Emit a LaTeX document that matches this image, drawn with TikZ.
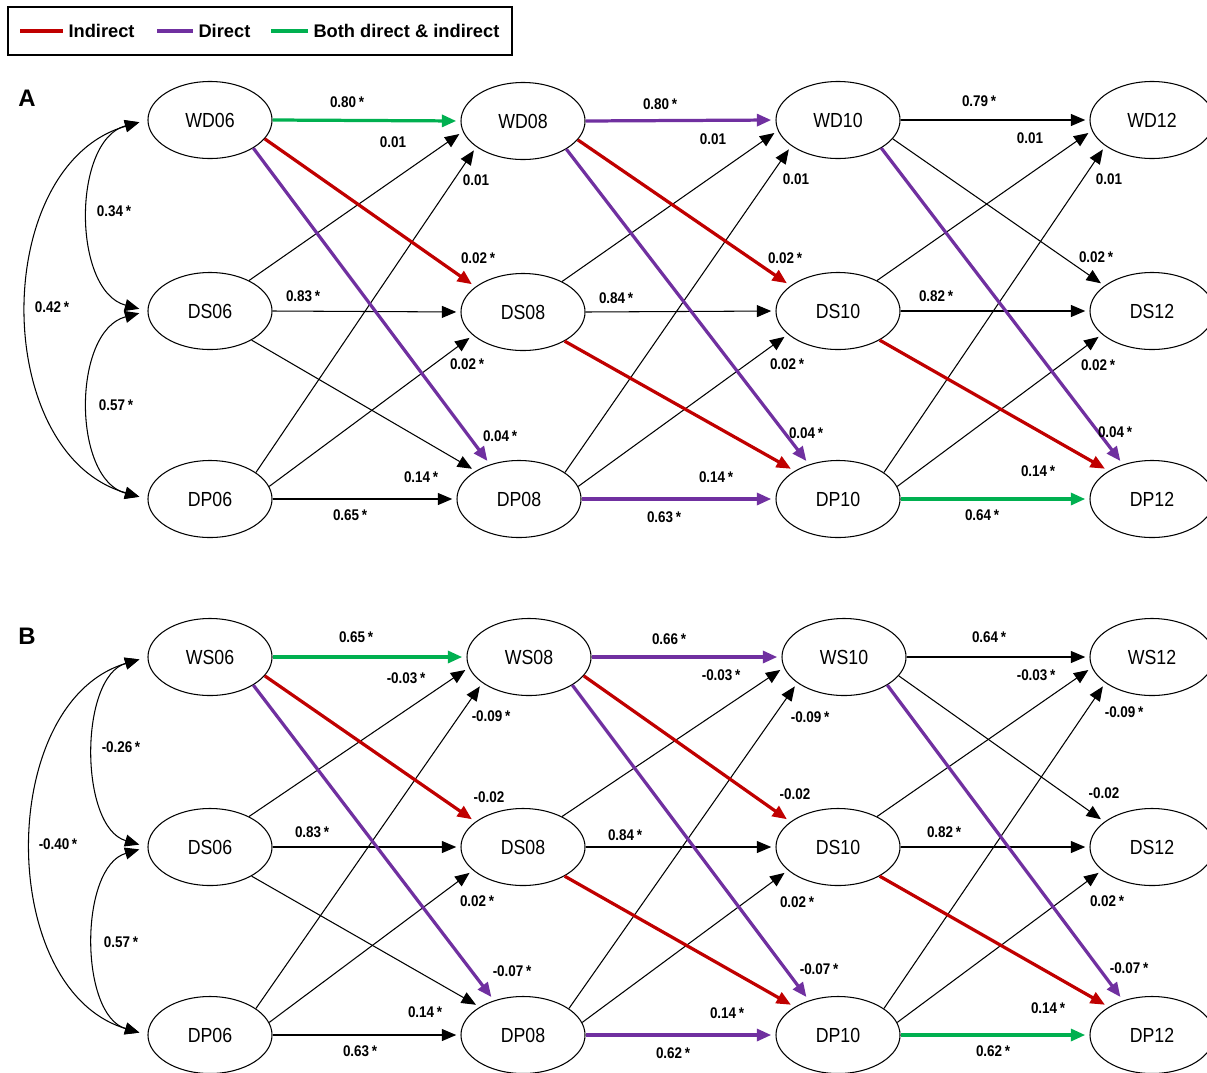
\documentclass[tikz,border=0pt]{standalone}
\usepackage{fontspec}
\setmainfont{Liberation Sans}
\newfontfamily\narrowfont{Liberation Sans}[FakeStretch=0.87]
\usetikzlibrary{arrows.meta, shapes.geometric}
\definecolor{cred}{HTML}{C00000}
\definecolor{cpurple}{HTML}{7030A0}
\definecolor{cgreen}{HTML}{00B050}
\tikzset{
  every picture/.style={line width=0.75pt},
  var/.style={draw, ellipse, minimum width=3.1cm, minimum height=1.925cm, inner sep=0pt,
    font=\narrowfont\fontsize{14.5}{16}\selectfont},
  link/.style={-{Triangle[length=3.6mm, width=3mm]}, draw=#1, shorten >=3pt},
  link/.default=black,
  strong/.style={link=#1, line width=2.3pt},
  cov/.style={{Triangle[length=3.6mm, width=3mm]}-{Triangle[length=3.6mm, width=3mm]},
    shorten <=6pt, shorten >=6pt},
  coef/.style={font=\narrowfont\bfseries\fontsize{11}{12}\selectfont, inner sep=1pt},
  panel/.style={font=\bfseries\fontsize{17}{19}\selectfont},
  key/.style={font=\bfseries\fontsize{13}{15}\selectfont, anchor=west, inner sep=0pt},
}

\begin{document}
\begin{tikzpicture}[x=0.025cm, y=-0.025cm]
  \useasboundingbox (0,0) rectangle (1207,1072);

  % legend
  \draw (8,7) rectangle (512,55);
  \draw[cred, line width=2.3pt] (20,31) -- (63,31);
  \node[key] (kind) at (68,31) {Indirect};
  \draw[cpurple, line width=2.3pt] (157,31) -- (193,31);
  \node[key] (kdir) at (198,31) {Direct};
  \draw[cgreen, line width=2.3pt] (271,31) -- (308,31);
  \node[key] (kboth) at (313,31) {Both direct \& indirect};

  % ---------------- panel A ----------------
  \node[panel] (tagA) at (27,98) {A};
  \node[var] (aw06) at (210,120) {WD06};
  \node[var] (as06) at (210,311) {DS06};
  \node[var] (ap06) at (210,499) {DP06};
  \node[var] (aw08) at (523,121) {WD08};
  \node[var] (as08) at (523,312) {DS08};
  \node[var] (ap08) at (519,499) {DP08};
  \node[var] (aw10) at (838,120) {WD10};
  \node[var] (as10) at (838,311) {DS10};
  \node[var] (ap10) at (838,499) {DP10};
  \node[var] (aw12) at (1152,120) {WD12};
  \node[var] (as12) at (1152,311) {DS12};
  \node[var] (ap12) at (1152,499) {DP12};

  \draw[cov] (aw06.west) .. controls (72,140) and (72,291) .. (as06.west);
  \draw[cov] (as06.west) .. controls (72,331) and (72,479) .. (ap06.west);
  \draw[cov] (aw06.west) .. controls (-10,165) and (-10,454) .. (ap06.west);

  % 06 -> 08
  \draw[link] (as06.38) -- (aw08.190);
  \draw[link] (ap06.30) -- (aw08.209);
  \draw[link] (as06.east) -- (as08.west);
  \draw[link] (ap06.12) -- (as08.205);
  \draw[link] (as06.325) -- (ap08.147);
  \draw[link] (ap06.east) -- (ap08.west);
  \draw[strong=cgreen] (aw06.east) -- (aw08.west);
  \draw[strong=cred] (aw06.341) -- (as08.152);
  \draw[strong=cpurple] (aw06.327) -- (ap08.130);
  % 08 -> 10
  \draw[link] (as08.38) -- (aw10.190);
  \draw[link] (ap08.30) -- (aw10.209);
  \draw[link] (as08.east) -- (as10.west);
  \draw[link] (ap08.12) -- (as10.205);
  \draw[strong=cpurple] (aw08.east) -- (aw10.west);
  \draw[strong=cred] (aw08.341) -- (as10.152);
  \draw[strong=cpurple] (aw08.327) -- (ap10.130);
  \draw[strong=cred] (as08.325) -- (ap10.147);
  \draw[strong=cpurple] (ap08.east) -- (ap10.west);
  % 10 -> 12
  \draw[link] (aw10.east) -- (aw12.west);
  \draw[link] (as10.38) -- (aw12.190);
  \draw[link] (ap10.30) -- (aw12.209);
  \draw[link] (aw10.341) -- (as12.152);
  \draw[link] (as10.east) -- (as12.west);
  \draw[link] (ap10.12) -- (as12.205);
  \draw[strong=cpurple] (aw10.327) -- (ap12.130);
  \draw[strong=cred] (as10.325) -- (ap12.147);
  \draw[strong=cgreen] (ap10.east) -- (ap12.west);

  \node[coef] (ca1) at (114,211) {0.34\,*};
  \node[coef] (ca2) at (116,405) {0.57\,*};
  \node[coef] (ca3) at (52,307) {0.42\,*};
  \node[coef] (ca4) at (347,102) {0.80\,*};
  \node[coef] (ca5) at (660,104) {0.80\,*};
  \node[coef] (ca6) at (979,101) {0.79\,*};
  \node[coef] (ca7) at (393,142) {0.01};
  \node[coef] (ca8) at (713,139) {0.01};
  \node[coef] (ca9) at (1030,138) {0.01};
  \node[coef] (ca10) at (476,180) {0.01};
  \node[coef] (ca11) at (796,179) {0.01};
  \node[coef] (ca12) at (1109,179) {0.01};
  \node[coef] (ca13) at (478,258) {0.02\,*};
  \node[coef] (ca14) at (785,258) {0.02\,*};
  \node[coef] (ca15) at (1096,257) {0.02\,*};
  \node[coef] (ca16) at (303,296) {0.83\,*};
  \node[coef] (ca17) at (616,298) {0.84\,*};
  \node[coef] (ca18) at (936,296) {0.82\,*};
  \node[coef] (ca19) at (467,364) {0.02\,*};
  \node[coef] (ca20) at (787,364) {0.02\,*};
  \node[coef] (ca21) at (1098,365) {0.02\,*};
  \node[coef] (ca22) at (500,436) {0.04\,*};
  \node[coef] (ca23) at (806,433) {0.04\,*};
  \node[coef] (ca24) at (1115,432) {0.04\,*};
  \node[coef] (ca25) at (421,477) {0.14\,*};
  \node[coef] (ca26) at (716,477) {0.14\,*};
  \node[coef] (ca27) at (1038,471) {0.14\,*};
  \node[coef] (ca28) at (350,515) {0.65\,*};
  \node[coef] (ca29) at (664,517) {0.63\,*};
  \node[coef] (ca30) at (982,515) {0.64\,*};

  % ---------------- panel B ----------------
  \node[panel] (tagB) at (27,636) {B};
  \node[var] (bw06) at (210,657) {WS06};
  \node[var] (bs06) at (210,847) {DS06};
  \node[var] (bp06) at (210,1035) {DP06};
  \node[var] (bw08) at (529,657) {WS08};
  \node[var] (bs08) at (523,847) {DS08};
  \node[var] (bp08) at (523,1035) {DP08};
  \node[var] (bw10) at (844,657) {WS10};
  \node[var] (bs10) at (838,847) {DS10};
  \node[var] (bp10) at (838,1035) {DP10};
  \node[var] (bw12) at (1152,657) {WS12};
  \node[var] (bs12) at (1152,847) {DS12};
  \node[var] (bp12) at (1152,1035) {DP12};

  \draw[cov] (bw06.west) .. controls (79,677) and (79,827) .. (bs06.west);
  \draw[cov] (bs06.west) .. controls (79,867) and (79,1015) .. (bp06.west);
  \draw[cov] (bw06.west) .. controls (-4,702) and (-4,990) .. (bp06.west);

  % 06 -> 08
  \draw[link] (bs06.38) -- (bw08.190);
  \draw[link] (bp06.30) -- (bw08.209);
  \draw[link] (bs06.east) -- (bs08.west);
  \draw[link] (bp06.12) -- (bs08.205);
  \draw[link] (bs06.325) -- (bp08.147);
  \draw[link] (bp06.east) -- (bp08.west);
  \draw[strong=cgreen] (bw06.east) -- (bw08.west);
  \draw[strong=cred] (bw06.341) -- (bs08.152);
  \draw[strong=cpurple] (bw06.327) -- (bp08.130);
  % 08 -> 10
  \draw[link] (bs08.38) -- (bw10.190);
  \draw[link] (bp08.30) -- (bw10.209);
  \draw[link] (bs08.east) -- (bs10.west);
  \draw[link] (bp08.12) -- (bs10.205);
  \draw[strong=cpurple] (bw08.east) -- (bw10.west);
  \draw[strong=cred] (bw08.341) -- (bs10.152);
  \draw[strong=cpurple] (bw08.327) -- (bp10.130);
  \draw[strong=cred] (bs08.325) -- (bp10.147);
  \draw[strong=cpurple] (bp08.east) -- (bp10.west);
  % 10 -> 12
  \draw[link] (bw10.east) -- (bw12.west);
  \draw[link] (bs10.38) -- (bw12.190);
  \draw[link] (bp10.30) -- (bw12.209);
  \draw[link] (bw10.341) -- (bs12.152);
  \draw[link] (bs10.east) -- (bs12.west);
  \draw[link] (bp10.12) -- (bs12.205);
  \draw[strong=cpurple] (bw10.327) -- (bp12.130);
  \draw[strong=cred] (bs10.325) -- (bp12.147);
  \draw[strong=cgreen] (bp10.east) -- (bp12.west);

  \node[coef] (cb1) at (121,747) {-0.26\,*};
  \node[coef] (cb2) at (121,942) {0.57\,*};
  \node[coef] (cb3) at (58,844) {-0.40\,*};
  \node[coef] (cb4) at (356,637) {0.65\,*};
  \node[coef] (cb5) at (669,639) {0.66\,*};
  \node[coef] (cb6) at (989,637) {0.64\,*};
  \node[coef] (cb7) at (406,678) {-0.03\,*};
  \node[coef] (cb8) at (721,675) {-0.03\,*};
  \node[coef] (cb9) at (1036,675) {-0.03\,*};
  \node[coef] (cb10) at (491,716) {-0.09\,*};
  \node[coef] (cb11) at (810,717) {-0.09\,*};
  \node[coef] (cb12) at (1124,712) {-0.09\,*};
  \node[coef] (cb13) at (489,797) {-0.02};
  \node[coef] (cb14) at (795,794) {-0.02};
  \node[coef] (cb15) at (1104,793) {-0.02};
  \node[coef] (cb16) at (312,832) {0.83\,*};
  \node[coef] (cb17) at (625,835) {0.84\,*};
  \node[coef] (cb18) at (944,832) {0.82\,*};
  \node[coef] (cb19) at (477,901) {0.02\,*};
  \node[coef] (cb20) at (797,902) {0.02\,*};
  \node[coef] (cb21) at (1107,901) {0.02\,*};
  \node[coef] (cb22) at (512,971) {-0.07\,*};
  \node[coef] (cb23) at (819,969) {-0.07\,*};
  \node[coef] (cb24) at (1129,968) {-0.07\,*};
  \node[coef] (cb25) at (425,1012) {0.14\,*};
  \node[coef] (cb26) at (727,1013) {0.14\,*};
  \node[coef] (cb27) at (1048,1008) {0.14\,*};
  \node[coef] (cb28) at (360,1051) {0.63\,*};
  \node[coef] (cb29) at (673,1053) {0.62\,*};
  \node[coef] (cb30) at (993,1051) {0.62\,*};
\end{tikzpicture}
\end{document}
